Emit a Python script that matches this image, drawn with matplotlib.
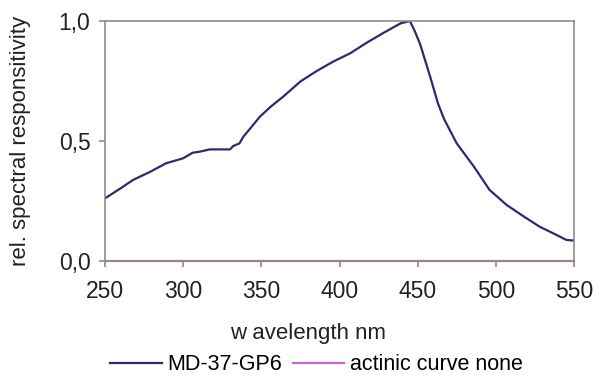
import matplotlib
matplotlib.use("Agg")
import matplotlib.pyplot as plt

wavelength = [250, 260, 268, 279, 289, 300, 306, 311, 317, 330, 332, 336, 338.5, 343, 349,
              356, 364, 375, 385, 396, 407, 417, 428, 439, 445, 448, 451.5, 458, 463, 467,
              475, 486, 496, 507, 518, 528, 539, 545, 550]
md37 = [0.261, 0.303, 0.338, 0.372, 0.407, 0.428, 0.451, 0.456, 0.465, 0.465, 0.479, 0.49,
        0.518, 0.553, 0.601, 0.643, 0.685, 0.748, 0.79, 0.831, 0.866, 0.908, 0.95, 0.99, 1.0,
        0.96, 0.905, 0.768, 0.656, 0.59, 0.49, 0.393, 0.296, 0.233, 0.185, 0.143, 0.108, 0.088, 0.085]
actinic_wl = [250, 550]
actinic = [0.0, 0.0]
xticks = [250, 300, 350, 400, 450, 500, 550]
yticks = [0.0, 0.5, 1.0]
ytick_labels = ["0,0", "0,5", "1,0"]

plt.rcParams['font.family'] = ['Liberation Sans', 'DejaVu Sans']
fig = plt.figure(figsize=(6, 3.81), dpi=100)
L, R, T, B = 105, 574, 21, 261
ax = fig.add_axes([L / 600, 1 - B / 381, (R - L) / 600, (B - T) / 381])
ax.plot(wavelength, md37, color='#2b2b70', lw=1.6, label='MD-37-GP6')
ax.plot(actinic_wl, actinic, color='#cc66cc', lw=1.6, label='actinic curve none', clip_on=False)
ax.set_xlim(250, 550)
ax.set_ylim(0, 1.0)
ax.set_xticks(xticks)
ax.set_yticks(yticks)
ax.set_yticklabels(ytick_labels)
for s in ax.spines.values():
    s.set_color('#8c8c8c')
    s.set_linewidth(1.2)
ax.tick_params(axis='both', colors='#8c8c8c', labelcolor='#222222', labelsize=16.5,
               length=4.5, width=1.2, direction='out')
ax.tick_params(axis='x', pad=9)
ax.tick_params(axis='y', pad=6)
ax.set_xlabel('w avelength nm', fontsize=16, color='#222222')
ax.xaxis.set_label_coords((308 - L) / (R - L), (B - 333.5) / (B - T))
ax.xaxis.label.set_va('center')
ax.set_ylabel('rel. spectral responsitivity', fontsize=16, color='#222222')
ax.yaxis.set_label_coords((20 - L) / (R - L), (B - 141) / (B - T))
ax.yaxis.label.set_va('center')
fig.legend(loc='center left', bbox_to_anchor=(110 / 600, 1 - 365 / 381), ncol=2, frameon=False,
           fontsize=15.5, handlelength=2.4, columnspacing=0.5, handletextpad=0.25, borderpad=0,
           borderaxespad=0)
fig.savefig('out.png', dpi=100)
